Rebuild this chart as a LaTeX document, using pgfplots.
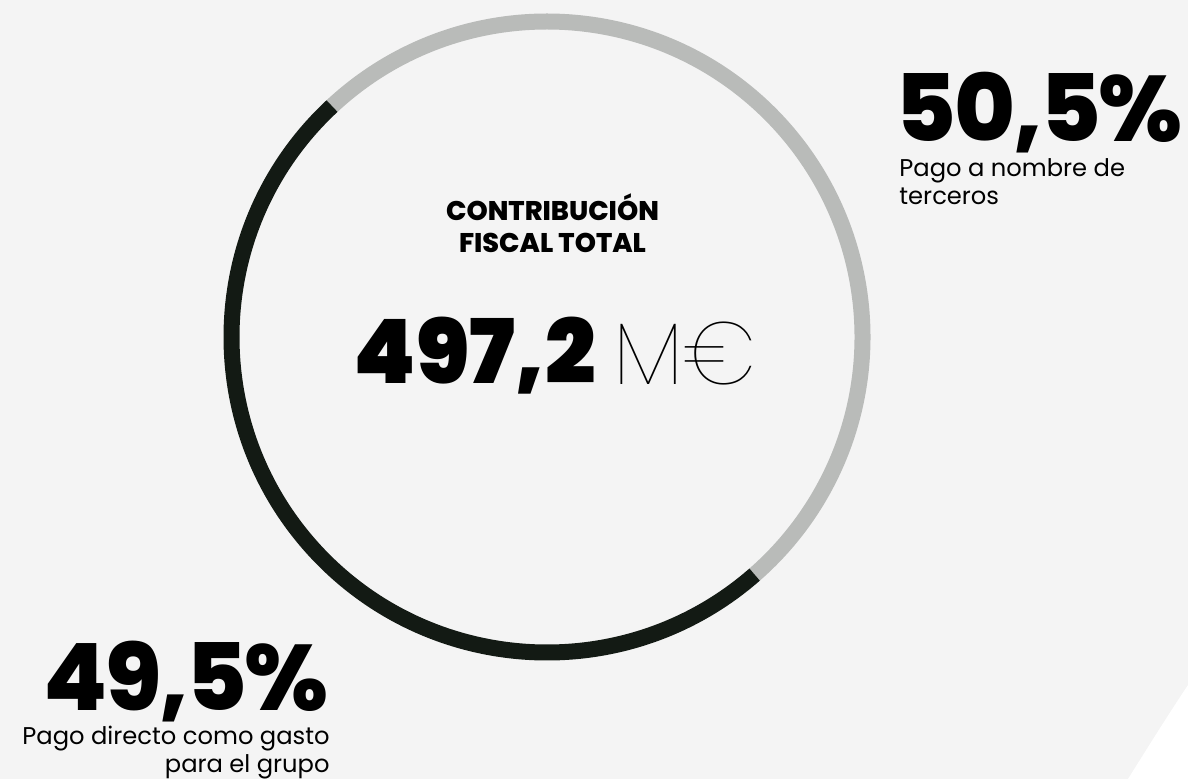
\documentclass[border=0pt]{standalone}
\usepackage{pgfplots}
\usepackage{pgfplotstable}
\pgfplotsset{compat=1.18}
\usepackage{fontspec}
\setmainfont{Poppins}
\newfontfamily\pblack{Poppins Black}
\newfontfamily\pxboldtight{Poppins ExtraBold}[LetterSpace=-2.5]
\newfontfamily\pxbold{Poppins ExtraBold}
\newfontfamily\pthin{Poppins Thin}
\definecolor{bg}{HTML}{F4F4F4}
\definecolor{ringgrey}{HTML}{B9BBB9}
\definecolor{ringdark}{HTML}{131A14}

\pgfplotstableread{
label value
terceros 50.5
grupo 49.5
}\datatable

\begin{document}
\begin{tikzpicture}
\pgfplotstablegetelem{0}{value}\of\datatable \edef\va{\pgfplotsretval}
\pgfplotstablegetelem{1}{value}\of\datatable \edef\vb{\pgfplotsretval}
\pgfmathsetmacro\midang{42.05}
\pgfmathsetmacro\sa{\midang+\va*1.8}
\pgfmathsetmacro\sb{\sa-\va*3.6}
\pgfmathsetmacro\sc{\sa+\vb*3.6}
\pgfmathsetmacro\ax{547+315.5*cos(\sa)}
\pgfmathsetmacro\ay{442+315.5*sin(\sa)}
\begin{axis}[x=0.5bp,y=0.5bp,xmin=0,xmax=1188,ymin=0,ymax=779,
  hide axis, clip=false]
\fill[bg] (axis cs:0,0) rectangle (axis cs:1188,779);
\coordinate (BL) at (axis cs:0,0);
\coordinate (TR) at (axis cs:1188,779);
\fill[white] (axis cs:1188,94) .. controls (axis cs:1168,64) and (axis cs:1148,32) .. (axis cs:1128,0) -- (axis cs:1188,0) -- cycle;
\draw[ringgrey, line width=8bp, line cap=butt] (axis cs:\ax,\ay) arc[start angle=\sa, end angle=\sb, radius=157.75bp];
\draw[ringdark, line width=8bp, line cap=butt] (axis cs:\ax,\ay) arc[start angle=\sa, end angle=\sc, radius=157.75bp];
% centre text
\node[anchor=base, inner sep=0] at (axis cs:552.5,558) {\pxbold\fontsize{13.5bp}{16bp}\selectfont CONTRIBUCIÓN};
\node[anchor=base, inner sep=0] at (axis cs:552.5,526) {\pxbold\fontsize{13.5bp}{16bp}\selectfont FISCAL TOTAL};
\node[anchor=base west, inner sep=0] at (axis cs:353,395) {\pblack\fontsize{44.5bp}{50bp}\selectfont 497,2};
\node[anchor=base west, inner sep=0] at (axis cs:613,394) {\pthin\fontsize{44bp}{50bp}\selectfont M€};
% right label
\node[anchor=base east, inner sep=0] at (axis cs:1183,637) {\pxboldtight\fontsize{46.5bp}{50bp}\selectfont 50,5\%};
\node[anchor=north west, inner sep=0, align=left, font=\fontsize{12.1bp}{14bp}\selectfont] at (axis cs:899,621) {Pago a nombre de\\terceros};
% left label
\node[anchor=base east, inner sep=0] at (axis cs:329,69) {\pxboldtight\fontsize{46.5bp}{50bp}\selectfont 49,5\%};
\node[anchor=north east, inner sep=0, align=right, font=\fontsize{12.1bp}{14bp}\selectfont] at (axis cs:330,53) {Pago directo como gasto\\para el grupo};
\end{axis}
\pgfresetboundingbox
\path[use as bounding box] (BL) rectangle (TR);
\end{tikzpicture}
\end{document}
